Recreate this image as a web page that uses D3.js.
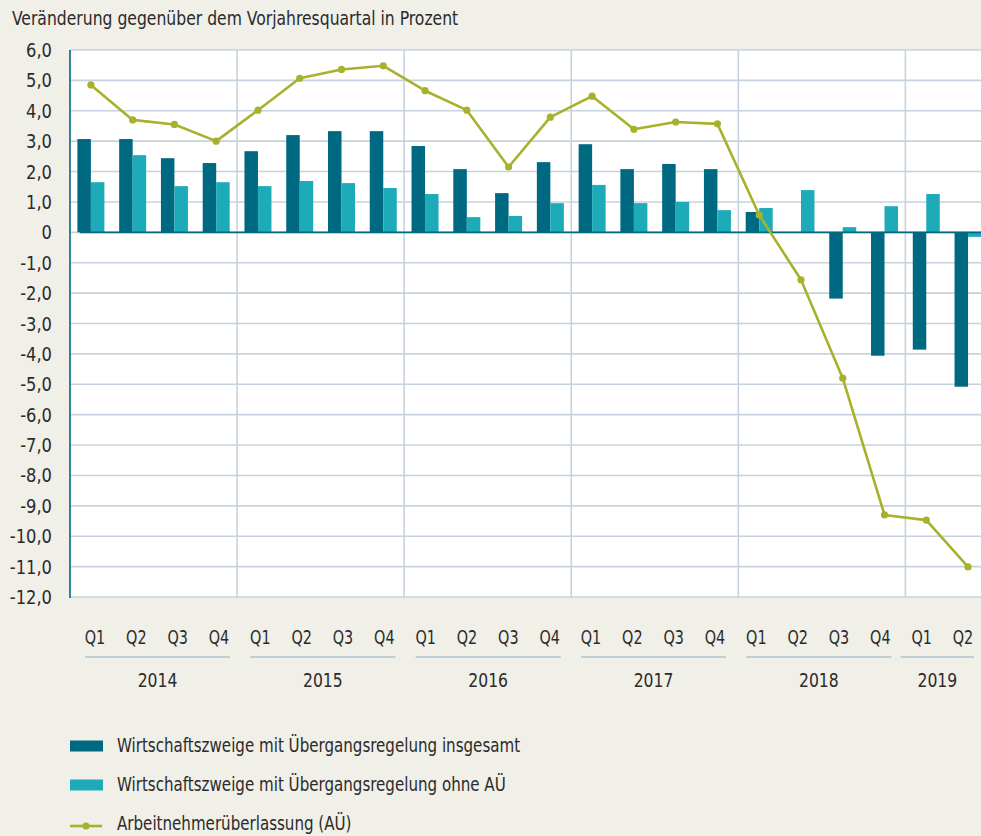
<!DOCTYPE html>
<html><head><meta charset="utf-8">
<script src="https://cdn.jsdelivr.net/npm/d3@7"></script>
<style>
html,body{margin:0;padding:0;background:#f0efe8;}
svg{display:block;}
text{font-family:"DejaVu Sans Condensed","Liberation Sans Narrow",sans-serif;fill:#2b2b2b;}
</style></head>
<body>
<svg id="chart" width="981" height="836"></svg>
<script>
const years = ["2014","2015","2016","2017","2018","2019"];
const quartersPerYear = [4,4,4,4,4,2];
const quarterNames = ["Q1","Q2","Q3","Q4"];
const insgesamt = [3.07,3.07,2.44,2.28, 2.67,3.2,3.33,3.33, 2.84,2.08,1.29,2.31, 2.9,2.08,2.25,2.08, 0.67,0.0,-2.18,-4.06, -3.86,-5.08];
const ohneAU = [1.65,2.54,1.52,1.65, 1.52,1.69,1.62,1.46, 1.26,0.5,0.54,0.96, 1.56,0.96,1.0,0.73, 0.8,1.39,0.17,0.86, 1.26,-0.15];
const arbeitnehmer = [4.85,3.7,3.55,3.0, 4.02,5.07,5.36,5.48, 4.66,4.02,2.15,3.79, 4.48,3.39,3.63,3.57, 0.57,-1.56,-4.8,-9.3, -9.47,-11.01];
const yTicks = [6,5,4,3,2,1,0,-1,-2,-3,-4,-5,-6,-7,-8,-9,-10,-11,-12];
const seriesNames = ["Wirtschaftszweige mit Übergangsregelung insgesamt","Wirtschaftszweige mit Übergangsregelung ohne AÜ","Arbeitnehmerüberlassung (AÜ)"];
const titleText = "Veränderung gegenüber dem Vorjahresquartal in Prozent";

const C_DARK = "#006982", C_LIGHT = "#1eabb9", C_LINE = "#a8b12b", C_GRID = "#c6d3de";

const quarters = [];
years.forEach((y,i)=>{ for(let q=0;q<quartersPerYear[i];q++) quarters.push({year:y, q:quarterNames[q], id:y+"-"+quarterNames[q]}); });

const svg = d3.select("#chart");
const pLeft = 70, pTop = 50, pBottom = 597;
const bandW = 41.77;
const x = d3.scaleBand().domain(quarters.map(d=>d.id)).range([pLeft, pLeft + bandW*quarters.length]).padding(0);
const xLabel = d3.scalePoint().domain(quarters.map(d=>d.id)).range([95, 963]);
const y = d3.scaleLinear().domain([-12,6]).range([pBottom, pTop]);
const groupW = 27;
const xInner = d3.scaleBand().domain(["a","b"]).range([0, groupW]);

// condense text horizontally to match the narrow reference typeface
function condense(sel, k){
  sel.each(function(){
    const w = this.getComputedTextLength();
    d3.select(this).attr("textLength", w*k).attr("lengthAdjust","spacingAndGlyphs");
  });
}

svg.append("rect").attr("x", pLeft).attr("y", pTop).attr("width", 981-pLeft).attr("height", pBottom-pTop).attr("fill","#fff");

svg.append("g").selectAll("line").data(yTicks).join("line")
  .attr("x1", pLeft).attr("x2", 981).attr("y1", d=>y(d)).attr("y2", d=>y(d))
  .attr("stroke", C_GRID).attr("stroke-width", 1.6);

const yearStarts = [];
let idx = 0;
years.forEach((yr,i)=>{ yearStarts.push({year:yr, start:idx, n:quartersPerYear[i]}); idx += quartersPerYear[i]; });
svg.append("g").selectAll("line").data(yearStarts.slice(1)).join("line")
  .attr("x1", d=>x(quarters[d.start].id)).attr("x2", d=>x(quarters[d.start].id))
  .attr("y1", pTop).attr("y2", pBottom+1)
  .attr("stroke", C_GRID).attr("stroke-width", 1.6);

const barG = svg.append("g");
barG.append("g").selectAll("rect").data(insgesamt).join("rect")
  .attr("x", (d,i)=>x(quarters[i].id) + x.bandwidth()/2 - groupW/2 + xInner("a"))
  .attr("width", xInner.bandwidth())
  .attr("y", d=>y(Math.max(0,d))).attr("height", d=>Math.abs(y(d)-y(0)))
  .attr("fill", C_DARK);
barG.append("g").selectAll("rect").data(ohneAU).join("rect")
  .attr("x", (d,i)=>x(quarters[i].id) + x.bandwidth()/2 - groupW/2 + xInner("b"))
  .attr("width", xInner.bandwidth())
  .attr("y", d=>y(Math.max(0,d))).attr("height", d=>Math.abs(y(d)-y(0)))
  .attr("fill", C_LIGHT);

svg.append("line").attr("x1", pLeft+10).attr("x2", 981).attr("y1", y(0)).attr("y2", y(0))
  .attr("stroke", C_DARK).attr("stroke-width", 1.6);

svg.append("line").attr("x1", pLeft).attr("x2", pLeft).attr("y1", pTop).attr("y2", pBottom+1)
  .attr("stroke", C_DARK).attr("stroke-width", 1.6);

const line = d3.line().x((d,i)=>x(quarters[i].id)+x.bandwidth()/2).y(d=>y(d));
svg.append("path").datum(arbeitnehmer).attr("d", line).attr("fill","none")
  .attr("stroke", C_LINE).attr("stroke-width", 2.6).attr("stroke-linejoin","round");
svg.append("g").selectAll("circle").data(arbeitnehmer).join("circle")
  .attr("cx", (d,i)=>x(quarters[i].id)+x.bandwidth()/2).attr("cy", d=>y(d)).attr("r", 3.6)
  .attr("fill", C_LINE);

const fmt = v => v===0 ? "0" : d3.format(".1f")(v).replace(".", ",").replace("−","-");
svg.append("g").selectAll("text").data(yTicks).join("text")
  .attr("x", 52).attr("y", d=>y(d)+7).attr("text-anchor","end")
  .attr("font-size", 19.5).text(fmt).call(condense, 0.93);

svg.append("text").attr("x", 12).attr("y", 25).attr("font-size", 19.5).text(titleText).call(condense, 0.89);

svg.append("g").selectAll("text").data(quarters).join("text")
  .attr("x", d=>xLabel(d.id)).attr("y", 644).attr("text-anchor","middle")
  .attr("font-size", 19.5).text(d=>d.q).call(condense, 0.82);

const yg = svg.append("g");
yearStarts.forEach(ys=>{
  const first = quarters[ys.start].id, last = quarters[ys.start+ys.n-1].id;
  const lx0 = xLabel(first) - 10 - (ys.n < 4 ? 11 : 0), lx1 = xLabel(last) + 11;
  yg.append("line").attr("x1", lx0).attr("x2", lx1).attr("y1", 657).attr("y2", 657)
    .attr("stroke", "#8fb0c4").attr("stroke-width", 1.2);
  yg.append("text").attr("x", (lx0+lx1)/2).attr("y", 687).attr("text-anchor","middle")
    .attr("font-size", 19.5).text(ys.year).call(condense, 0.89);
});

const lg = svg.append("g");
const legY = [746, 785, 826];
lg.append("rect").attr("x",70).attr("y",legY[0]-5.5).attr("width",33).attr("height",11).attr("fill",C_DARK);
lg.append("rect").attr("x",70).attr("y",legY[1]-5.5).attr("width",33).attr("height",11).attr("fill",C_LIGHT);
lg.append("line").attr("x1",70).attr("x2",102).attr("y1",legY[2]).attr("y2",legY[2]).attr("stroke",C_LINE).attr("stroke-width",2.6);
lg.append("circle").attr("cx",86).attr("cy",legY[2]).attr("r",3.6).attr("fill",C_LINE);
lg.selectAll("text").data(seriesNames).join("text")
  .attr("x",117).attr("y",(d,i)=>legY[i]+(i===2 ? 4 : 6)).attr("font-size",19.5).text(d=>d).call(condense, 0.86);
</script>
</body></html>
